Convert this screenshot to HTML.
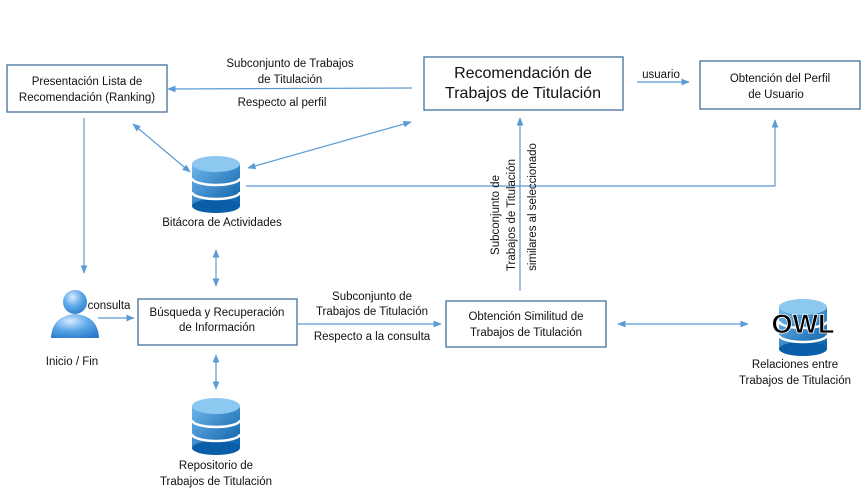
<!DOCTYPE html>
<html><head><meta charset="utf-8"><style>
body{margin:0;background:#fff}
text{font-family:"Liberation Sans",sans-serif;font-size:11.5px;fill:#111}
</style></head><body>
<svg width="864" height="495" viewBox="0 0 864 495" xmlns="http://www.w3.org/2000/svg">
<defs>
<marker id="a" viewBox="0 0 10 10" refX="9" refY="5" markerWidth="7" markerHeight="7" orient="auto-start-reverse"><path d="M0,1 L10,5 L0,9 z" fill="#5b9bd5"/></marker>
<linearGradient id="g" x1="0" y1="0" x2="1" y2="1"><stop offset="0" stop-color="#6fb6ea"/><stop offset="1" stop-color="#0a5ea8"/></linearGradient>
<radialGradient id="p" cx="0.4" cy="0.3" r="0.8"><stop offset="0" stop-color="#d8ecff"/><stop offset="0.5" stop-color="#5aa6e8"/><stop offset="1" stop-color="#2a78c8"/></radialGradient>
<g id="db">
<rect x="-24" y="-20" width="48" height="42" fill="url(#g)"/>
<ellipse cx="0" cy="22" rx="24" ry="7" fill="#0a5ea8"/>
<ellipse cx="0" cy="-20" rx="24" ry="8" fill="#8cc8f0"/>
<path d="M-24,-6 A24,7 0 0 0 24,-6" stroke="#fff" stroke-width="2.5" fill="none"/>
<path d="M-24,8 A24,7 0 0 0 24,8" stroke="#fff" stroke-width="2.5" fill="none"/>
</g>
</defs>
<g fill="#fff" stroke="#41719c" stroke-width="1.3">
<rect x="7" y="65" width="160" height="47"/>
<rect x="424" y="57" width="199" height="53"/>
<rect x="700" y="61" width="160" height="48"/>
<rect x="138" y="299" width="159" height="46"/>
<rect x="446" y="301" width="160" height="46"/>
</g>
<g stroke="#5b9bd5" stroke-width="1.2" fill="none">
<line x1="412" y1="88" x2="168" y2="89" marker-end="url(#a)"/>
<line x1="133" y1="124" x2="190" y2="172" marker-start="url(#a)" marker-end="url(#a)"/>
<line x1="248" y1="168" x2="411" y2="122" marker-start="url(#a)" marker-end="url(#a)"/>
<polyline points="246,186 775,186 775,120" marker-end="url(#a)"/>
<line x1="637" y1="82" x2="689" y2="82" marker-end="url(#a)"/>
<line x1="84" y1="118" x2="84" y2="273" marker-end="url(#a)"/>
<line x1="216" y1="250" x2="216" y2="286" marker-start="url(#a)" marker-end="url(#a)"/>
<line x1="98" y1="318" x2="134" y2="318" marker-end="url(#a)"/>
<line x1="298" y1="324" x2="441" y2="324" marker-end="url(#a)"/>
<line x1="520" y1="291" x2="520" y2="118" marker-end="url(#a)"/>
<line x1="618" y1="324" x2="748" y2="324" marker-start="url(#a)" marker-end="url(#a)"/>
<line x1="216" y1="355" x2="216" y2="389" marker-start="url(#a)" marker-end="url(#a)"/>
</g>
<use href="#db" x="216" y="184"/>
<use href="#db" x="216" y="426"/>
<use href="#db" x="803" y="327"/>
<text x="803" y="333" text-anchor="middle" style="font-size:27px;font-weight:bold;fill:#000;stroke:#fff;stroke-width:0.8">OWL</text>
<circle cx="75" cy="302" r="12" fill="url(#p)"/>
<path d="M51,338 Q52,316 75,314 Q98,316 99,338 Z" fill="url(#p)"/>
<g text-anchor="middle">
<text x="87" y="85">Presentación Lista de</text>
<text x="87" y="101">Recomendación (Ranking)</text>
<text x="523" y="78" style="font-size:16px">Recomendación de</text>
<text x="523" y="98" style="font-size:16px">Trabajos de Titulación</text>
<text x="780" y="82">Obtención del Perfil</text>
<text x="776" y="98">de Usuario</text>
<text x="217" y="316">Búsqueda y Recuperación</text>
<text x="217" y="331">de Información</text>
<text x="526" y="320">Obtención Similitud de</text>
<text x="526" y="336">Trabajos de Titulación</text>
<text x="290" y="67">Subconjunto de Trabajos</text>
<text x="290" y="83">de Titulación</text>
<text x="282" y="106">Respecto al perfil</text>
<text x="661" y="78">usuario</text>
<text x="222" y="226">Bitácora de Actividades</text>
<text x="72" y="365">Inicio / Fin</text>
<text x="109" y="309">consulta</text>
<text x="372" y="300">Subconjunto de</text>
<text x="372" y="315">Trabajos de Titulación</text>
<text x="372" y="340">Respecto a la consulta</text>
<text x="216" y="469">Repositorio de</text>
<text x="216" y="485">Trabajos de Titulación</text>
<text x="795" y="368">Relaciones entre</text>
<text x="795" y="384">Trabajos de Titulación</text>
<g transform="translate(499,215) rotate(-90)"><text x="0" y="0">Subconjunto de</text></g>
<g transform="translate(515,215) rotate(-90)"><text x="0" y="0">Trabajos de Titulación</text></g>
<g transform="translate(536,207) rotate(-90)"><text x="0" y="0">similares al seleccionado</text></g>
</g>
</svg>
</body></html>
